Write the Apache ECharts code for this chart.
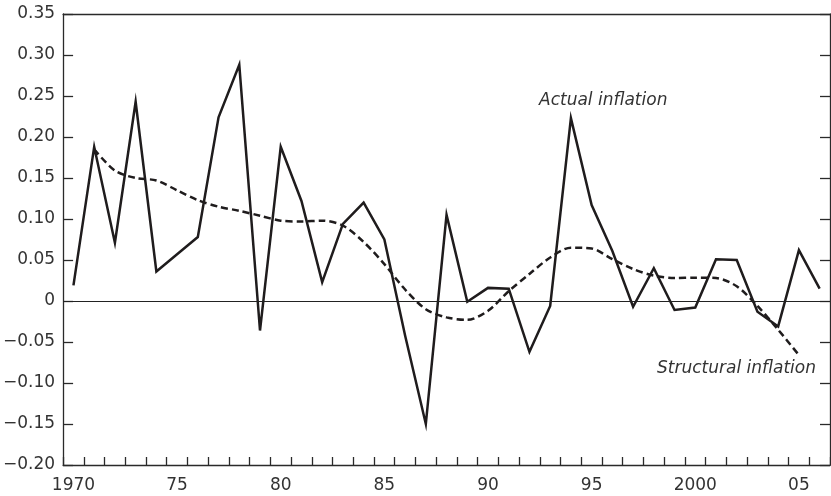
<!DOCTYPE html>
<html>
<head>
<meta charset="utf-8">
<script src="https://cdn.jsdelivr.net/npm/echarts@6/dist/echarts.min.js"></script>
<style>
html,body{margin:0;padding:0;background:#fff;}
#chart{width:831px;height:496px;}
</style>
</head>
<body>
<div id="chart"></div>
<script>
// ---- data ----
var years = ['1970','1971','1972','1973','1974','1975','1976','1977','1978','1979',
             '1980','1981','1982','1983','1984','1985','1986','1987','1988','1989',
             '1990','1991','1992','1993','1994','1995','1996','1997','1998','1999',
             '2000','2001','2002','2003','2004','2005','2006'];
var actualInflation = [0.019, 0.188, 0.071, 0.243, 0.036, 0.057, 0.078, 0.224, 0.288, -0.036,
                       0.188, 0.122, 0.023, 0.094, 0.120, 0.075, -0.042, -0.150, 0.105, -0.001,
                       0.016, 0.015, -0.062, -0.006, 0.223, 0.117, 0.061, -0.007, 0.040, -0.011,
                       -0.008, 0.051, 0.050, -0.013, -0.031, 0.062, 0.015];
var structuralInflation = [null, 0.185, 0.159, 0.150, 0.147, 0.135, 0.123, 0.115, 0.110, 0.104,
                           0.098, 0.097, 0.098, 0.092, 0.072, 0.045, 0.014, -0.010, -0.020, -0.023,
                           -0.012, 0.012, 0.033, 0.053, 0.065, 0.064, 0.051, 0.039, 0.031, 0.028,
                           0.0285, 0.028, 0.018, -0.006, -0.035, -0.066, null];
var xTickYears  = ['1970','1975','1980','1985','1990','1995','2000','2005'];
var xTickLabels = ['1970','75','80','85','90','95','2000','05'];
var yTickValues = [-0.20,-0.15,-0.10,-0.05,0,0.05,0.10,0.15,0.20,0.25,0.30,0.35];
var yTickLabels = ['\u22120.20','\u22120.15','\u22120.10','\u22120.05','0','0.05','0.10','0.15','0.20','0.25','0.30','0.35'];
var annotations = ['Actual inflation', 'Structural inflation'];

// ---- chart ----
var FONT = '"DejaVu Sans", "Noto Sans", sans-serif';
var INK = '#1f1c1d';
var AXIS = '#2a2a2a';

function xFmt(v){
  var i = xTickYears.indexOf(String(v));
  return i >= 0 ? xTickLabels[i] : '';
}
function yFmt(v){
  for (var i = 0; i < yTickValues.length; i++) {
    if (Math.abs(yTickValues[i] - v) < 1e-9) return yTickLabels[i];
  }
  return '';
}

var chart = echarts.init(document.getElementById('chart'), null, {renderer:'canvas'});
chart.setOption({
  animation: false,
  backgroundColor: '#fff',
  grid: {left: 63, right: 1, top: 14, bottom: 31, containLabel: false},
  xAxis: [{
    type: 'category', data: years, boundaryGap: true, position: 'bottom',
    axisLine: {onZero: false, lineStyle: {color: AXIS, width: 1.3}},
    axisTick: {show: true, inside: true, length: 8, interval: 0, alignWithLabel: false,
               lineStyle: {color: AXIS, width: 1.3}},
    axisLabel: {interval: 4, formatter: xFmt, fontSize: 17, color: '#333',
                fontFamily: FONT, margin: 12},
    splitLine: {show: false}
  }, {
    type: 'category', data: years, boundaryGap: true, position: 'top',
    axisLine: {onZero: false, lineStyle: {color: AXIS, width: 1.3}},
    axisTick: {show: false}, axisLabel: {show: false}, splitLine: {show: false}
  }],
  yAxis: [{
    type: 'value', min: -0.2, max: 0.35, interval: 0.05, position: 'left',
    axisLine: {show: true, onZero: false, lineStyle: {color: AXIS, width: 1.3}},
    axisTick: {show: true, inside: true, length: 10, lineStyle: {color: AXIS, width: 1.3}},
    axisLabel: {formatter: yFmt, fontSize: 17, color: '#333', fontFamily: FONT, margin: 8},
    splitLine: {show: false}
  }, {
    type: 'value', min: -0.2, max: 0.35, interval: 0.05, position: 'right',
    axisLine: {show: true, onZero: false, lineStyle: {color: AXIS, width: 1.3}},
    axisTick: {show: true, inside: true, length: 10, lineStyle: {color: AXIS, width: 1.3}},
    axisLabel: {show: false},
    splitLine: {show: false}
  }],
  series: [{
    name: 'Actual inflation', type: 'line', data: actualInflation,
    xAxisIndex: 0, yAxisIndex: 0, symbol: 'none', z: 4,
    lineStyle: {color: INK, width: 2.5, join: 'miter'},
    markLine: {
      silent: true, symbol: ['none','none'], label: {show: false},
      lineStyle: {color: '#222', width: 1.1, type: 'solid'},
      data: [{yAxis: 0}]
    }
  }, {
    name: 'Structural inflation', type: 'line', data: structuralInflation,
    xAxisIndex: 0, yAxisIndex: 0, symbol: 'none', smooth: 0.3, z: 3,
    connectNulls: false,
    lineStyle: {color: INK, width: 2.5, type: [7, 4]}
  }],
  graphic: [{
    type: 'text', left: 539, top: 92, silent: true,
    style: {text: annotations[0], font: 'italic 17px ' + FONT, fill: '#333'}
  }, {
    type: 'text', left: 657, top: 360, silent: true,
    style: {text: annotations[1], font: 'italic 17px ' + FONT, fill: '#333'}
  }]
});
</script>
</body>
</html>
